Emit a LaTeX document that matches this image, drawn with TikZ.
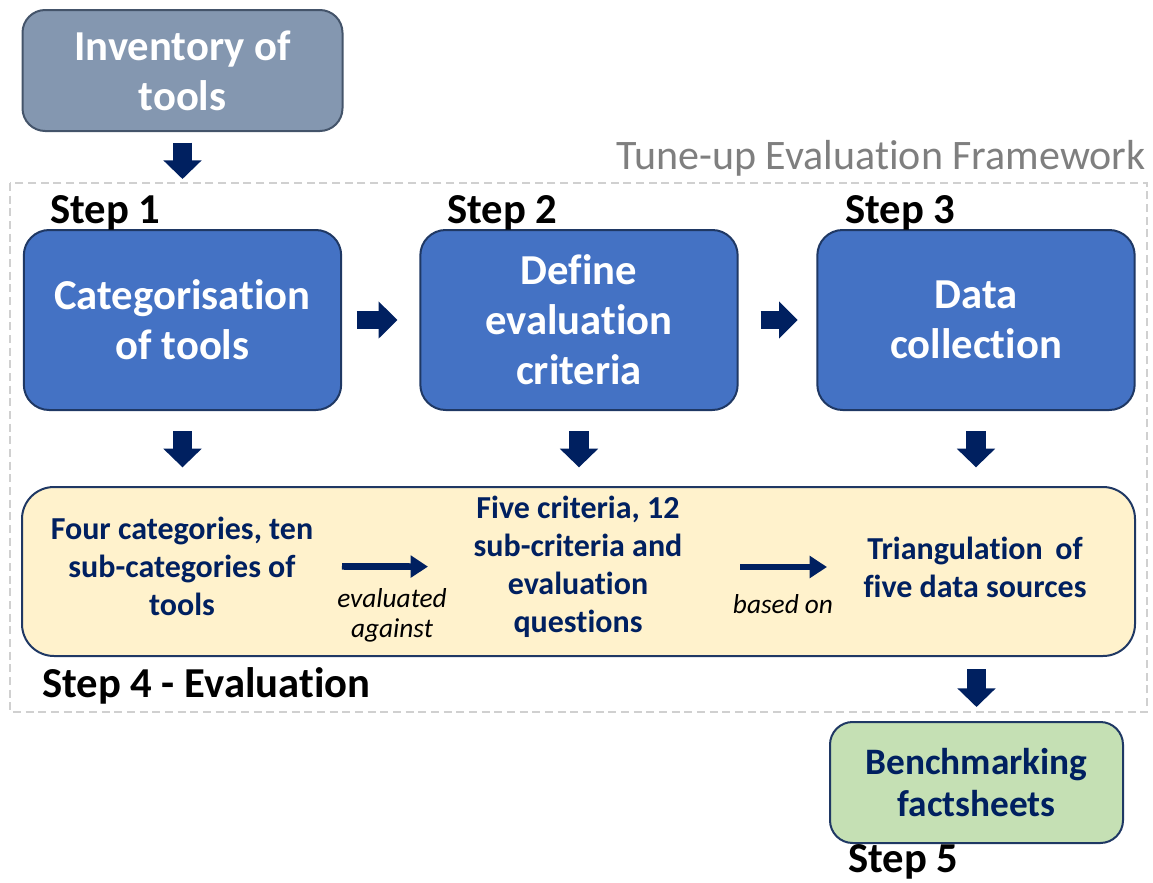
\documentclass[tikz,border=0pt]{standalone}
\usepackage{fontspec}
\setmainfont[Ligatures=NoCommon]{Carlito}
\usetikzlibrary{arrows.meta}
\definecolor{navy}{HTML}{002060}
\definecolor{boxblue}{HTML}{4472C4}
\definecolor{boxborder}{HTML}{1F3864}
\definecolor{invfill}{HTML}{8497B0}
\definecolor{invborder}{HTML}{44546A}
\definecolor{yelfill}{HTML}{FFF2CC}
\definecolor{grnfill}{HTML}{C5E0B4}
\definecolor{framegray}{HTML}{D0D0D0}
\definecolor{titlegray}{HTML}{7F7F7F}
\tikzset{
  bigtext/.style={font=\bfseries\fontsize{32}{37.5}\selectfont, text=white, align=center},
  bluebox/.style={draw=boxborder, line width=1.5pt, fill=boxblue, rounded corners=19pt,
     minimum width=238pt, minimum height=135pt, bigtext, inner sep=0pt},
  invbox/.style={draw=invborder, line width=1.5pt, fill=invfill, rounded corners=17pt,
     minimum width=240pt, minimum height=90.75pt, bigtext, inner sep=0pt},
  yelbox/.style={draw=boxborder, line width=1.5pt, fill=yelfill, rounded corners=24pt,
     minimum width=834.75pt, minimum height=126.75pt, inner sep=0pt},
  grnbox/.style={draw=boxborder, line width=1.5pt, fill=grnfill, rounded corners=17pt,
     minimum width=219.75pt, minimum height=90.75pt, inner sep=0pt,
     font=\bfseries\fontsize{28}{32}\selectfont, text=navy, align=center},
  midtext/.style={font=\bfseries\fontsize{24}{28.5}\selectfont, text=navy, align=center, inner sep=0pt},
  ittext/.style={font=\itshape\fontsize{20.5}{22.5}\selectfont, text=black, align=center, inner sep=0pt},
  steplabel/.style={font=\bfseries\fontsize{32}{36}\selectfont, text=black, anchor=west, inner sep=0pt},
  blockarrow/.style={draw=navy, line width=14.5pt, -{Triangle[length=14pt, width=28pt]}},
  blockarrowh/.style={draw=navy, line width=13.5pt, -{Triangle[length=14pt, width=27pt]}},
  thinarrow/.style={draw=navy, line width=5pt, -{Triangle[length=13pt, width=16pt]}},
}
\begin{document}
\begin{tikzpicture}[x=0.75pt, y=-0.75pt]
\useasboundingbox (0,0) rectangle (1153,882);

% dashed framework frame
\draw[framegray, line width=1.2pt, dash pattern=on 6pt off 3.5pt] (10,183) rectangle (1147,712);
\node[font=\fontsize{31.5}{34}\selectfont, text=titlegray, anchor=east, inner sep=0pt] (title) at (1146,158) {Tune-up Evaluation Framework};

% boxes
\node[invbox] (inv) at (182.5,70.5) {Inventory of\\tools};
\node[bluebox] (b1) at (182.5,320) {Categorisation\\of tools};
\node[bluebox] (b2) at (579,320) {Define\\evaluation\\criteria};
\node[bluebox] (b3) at (976,320) {Data\\collection};
\node[yelbox] (yel) at (578.5,571.5) {};
\node[grnbox] (grn) at (976.5,782.5) {Benchmarking\\factsheets};

% step labels
\node[steplabel] (s1) at (50,213) {Step 1};
\node[steplabel] (s2) at (447,213) {Step 2};
\node[steplabel] (s3) at (845,213) {Step 3};
\node[steplabel] (s4) at (42,686) {Step 4 - Evaluation};
\node[steplabel] (s5) at (848,862) {Step 5};

% texts inside the evaluation box
\node[midtext] (t1) at (182,566) {Four categories, ten\\sub-categories of\\tools};
\node[midtext] (t2) at (578,567) {Five criteria, 12\\sub-criteria and\\evaluation\\questions};
\node[midtext] (t3) at (975,567) {Triangulation\, of\\five data sources};
\node[ittext] (l1) at (392,615) {evaluated\\against};
\node[ittext] (l2) at (783,604) {based on};

% block arrows
\draw[blockarrow, shorten <=8pt, shorten >=37.5pt] (inv.south) -- (b1.north);
\draw[blockarrowh, shorten <=11pt, shorten >=16.5pt] (b1.east) -- (b2.west);
\draw[blockarrowh, shorten <=16.5pt, shorten >=14pt] (b2.east) -- (b3.west);
\draw[blockarrow, shorten <=15pt, shorten >=14pt] (b1.south) -- (b1.south |- yel.north);
\draw[blockarrow, shorten <=15pt, shorten >=14pt] (b2.south) -- (b2.south |- yel.north);
\draw[blockarrow, shorten <=15pt, shorten >=14pt] (b3.south) -- (b3.south |- yel.north);
\draw[blockarrow, shorten <=9pt, shorten >=10.5pt] (yel.south -| grn.north) -- (grn.north);

% thin arrows
\draw[thinarrow, shorten <=120pt, shorten >=112.5pt] (t1.center) -- (t2.center);
\draw[thinarrow, shorten <=121.5pt, shorten >=111pt] (t2.center) -- (t3.center);
\end{tikzpicture}
\end{document}
